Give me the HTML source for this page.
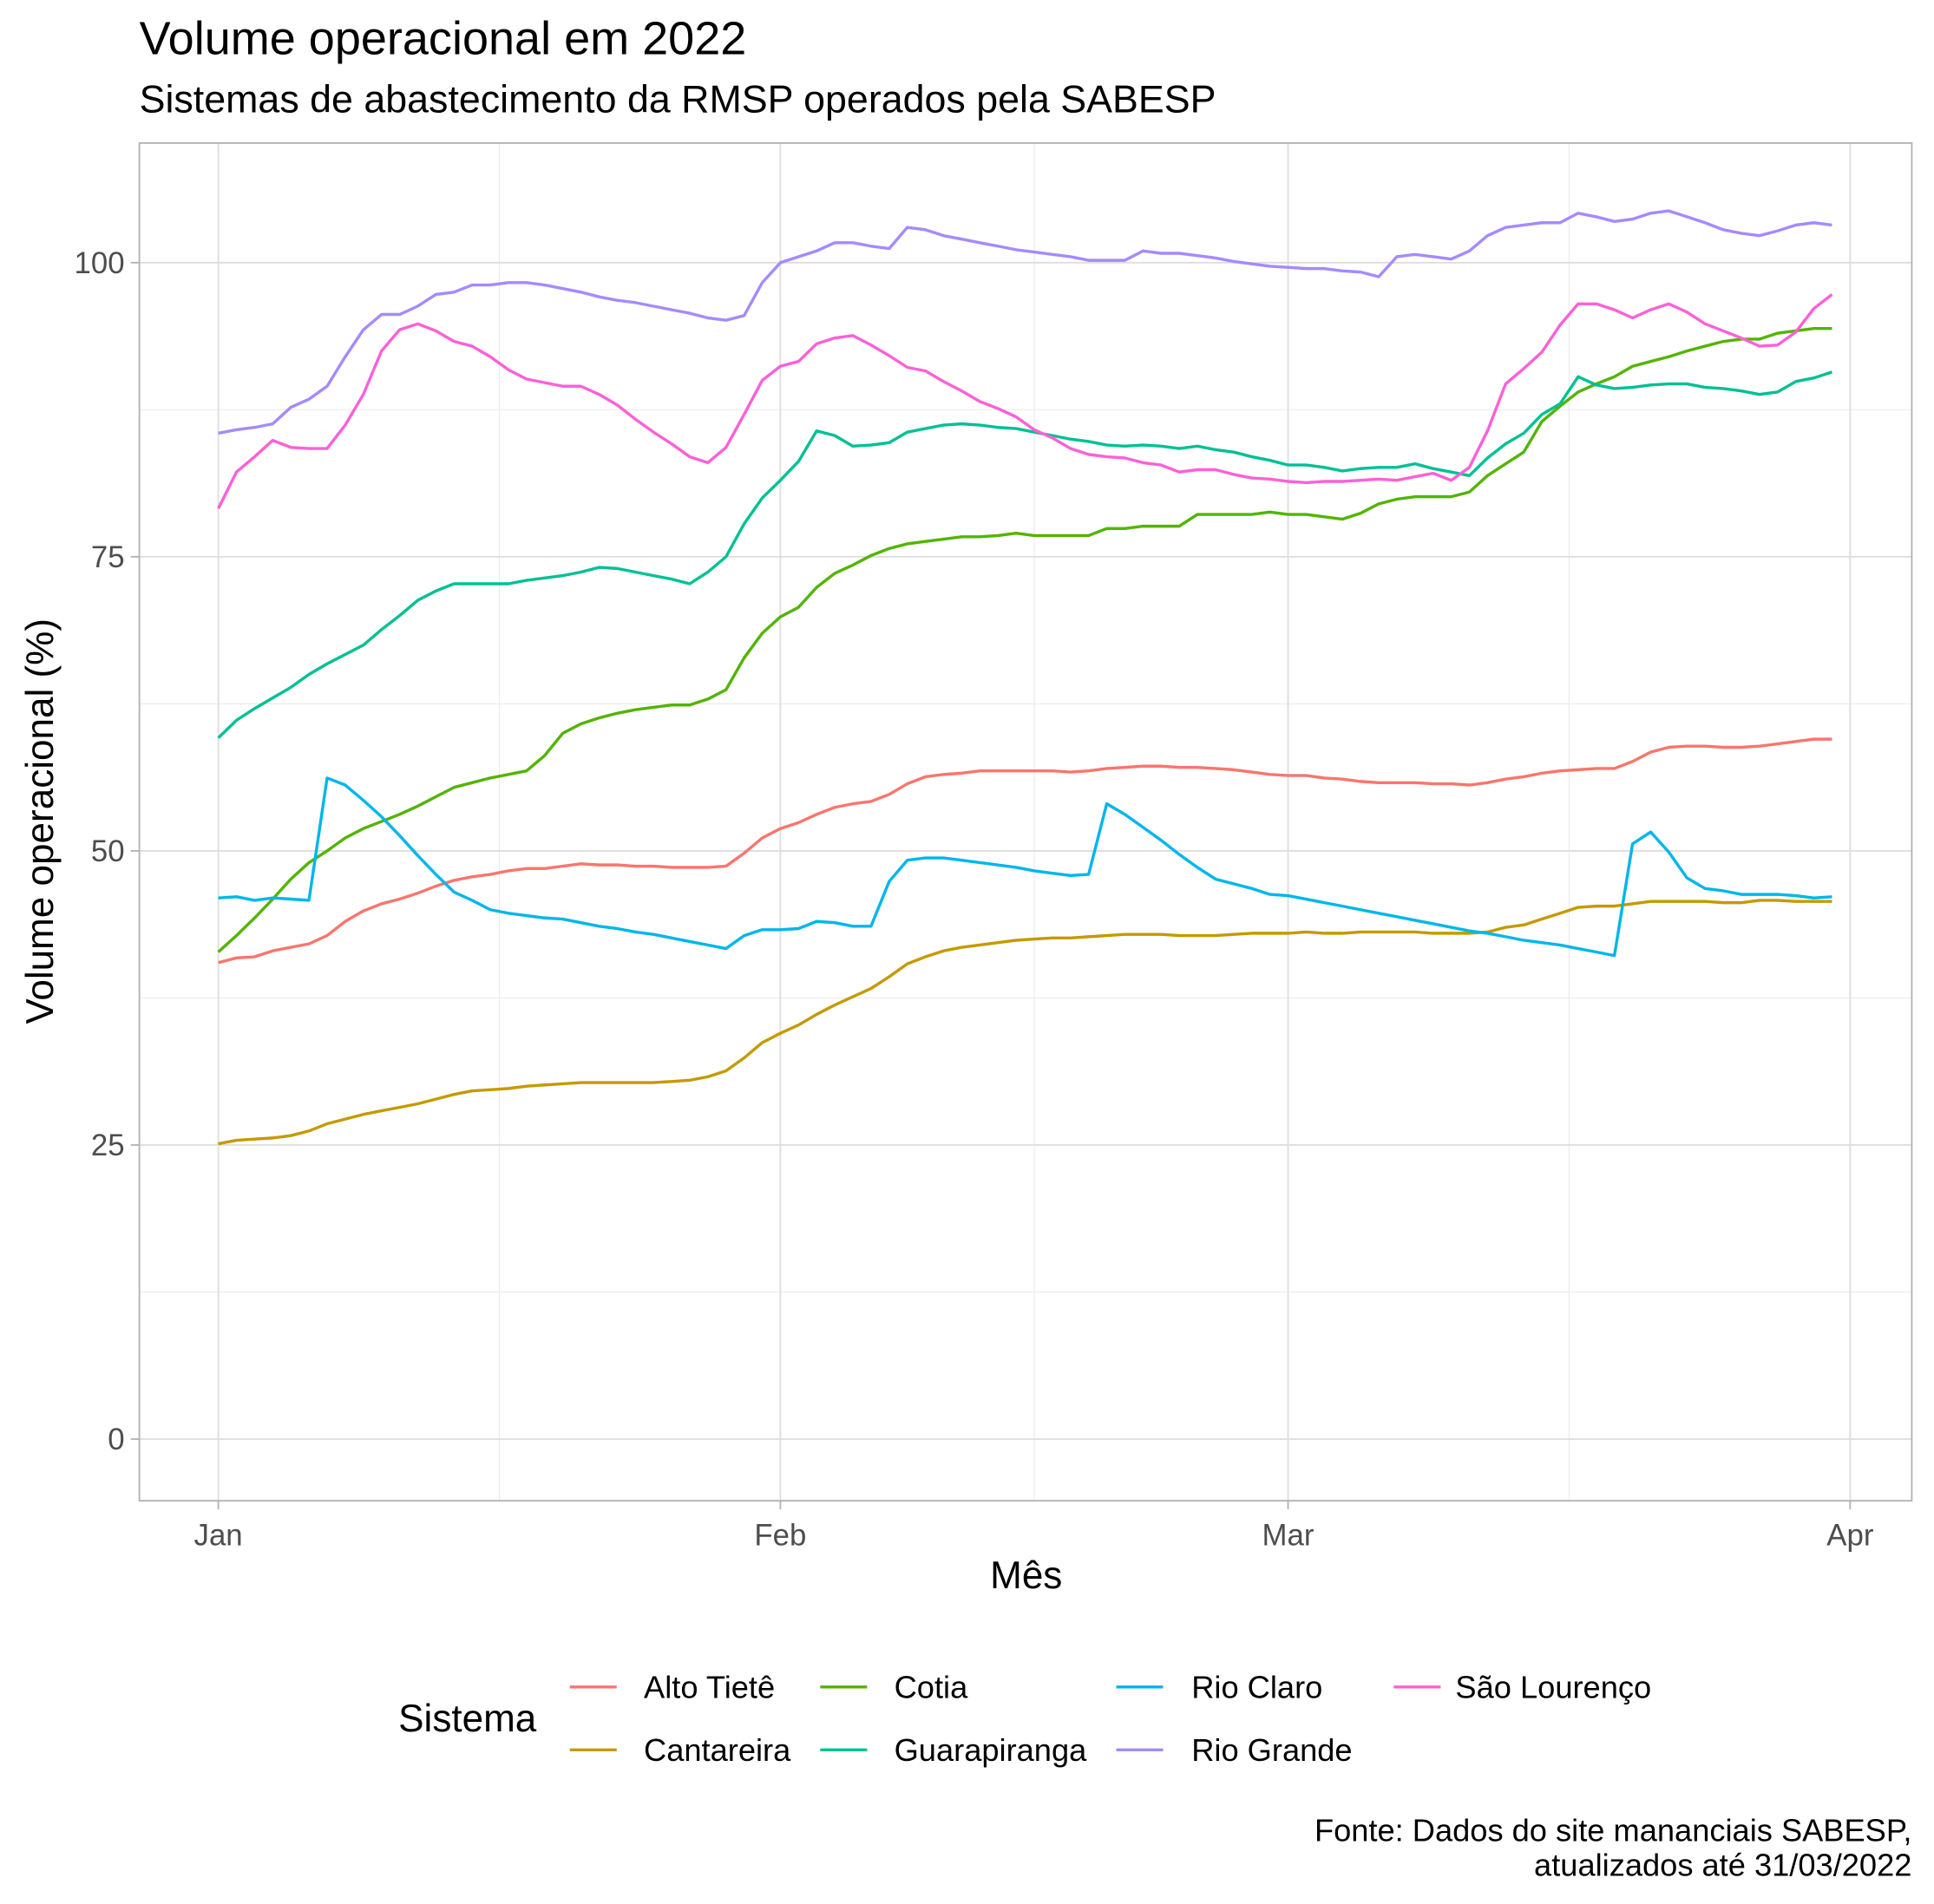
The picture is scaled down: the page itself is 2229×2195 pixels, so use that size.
<!DOCTYPE html>
<html><head><meta charset="utf-8"><style>
html,body{margin:0;padding:0;background:#fff}
svg{display:block;font-family:"Liberation Sans",sans-serif}
</style></head><body>
<svg id="chart" width="2229" height="2195" viewBox="0 0 1568 1544" preserveAspectRatio="none" xmlns="http://www.w3.org/2000/svg">
<rect width="1568" height="1544" fill="#fff"/>
<text x="113" y="44" font-size="38" fill="#000">Volume operacional em 2022</text>
<text x="113" y="91" font-size="31.5" fill="#000">Sistemas de abastecimento da RMSP operados pela SABESP</text>
<g id="grid"></g>
<g id="series"></g>
<rect x="113" y="116" width="1437" height="1101" fill="none" stroke="#b3b3b3" stroke-width="1.3"/>
<g id="axes"></g>
<text x="832" y="1288" font-size="31" text-anchor="middle">Mês</text>
<text transform="translate(43,666) rotate(-90)" font-size="31" text-anchor="middle">Volume operacional (%)</text>
<g id="legend"></g>
<text x="1550" y="1493" font-size="25.5" text-anchor="end">Fonte: Dados do site mananciais SABESP,</text>
<text x="1550" y="1521" font-size="25.5" text-anchor="end">atualizados até 31/03/2022</text>
</svg>
<script>
const seriesNames = ["Alto Tietê","Cantareira","Cotia","Guarapiranga","Rio Claro","Rio Grande","São Lourenço"];
const seriesColors = ["#F8766D","#C49A00","#53B400","#00C094","#00B6EB","#A58AFF","#FB61D7"];
const yTicks = [0,25,50,75,100];
const yMinor = [12.5,37.5,62.5,87.5];
const xTickDays = [0,31,59,90];
const xTickLabels = ["Jan","Feb","Mar","Apr"];
const xMinorDays = [15.5,45,74.5];
const altoTiete = [40.5,40.9,41,41.5,41.8,42.1,42.8,44,44.9,45.5,45.9,46.4,47,47.5,47.8,48,48.3,48.5,48.5,48.7,48.9,48.8,48.8,48.7,48.7,48.6,48.6,48.6,48.7,49.8,51.1,51.9,52.4,53.1,53.7,54,54.2,54.8,55.7,56.3,56.5,56.6,56.8,56.8,56.8,56.8,56.8,56.7,56.8,57,57.1,57.2,57.2,57.1,57.1,57,56.9,56.7,56.5,56.4,56.4,56.2,56.1,55.9,55.8,55.8,55.8,55.7,55.7,55.6,55.8,56.1,56.3,56.6,56.8,56.9,57,57,57.6,58.4,58.8,58.9,58.9,58.8,58.8,58.9,59.1,59.3,59.5,59.5];
const cantareira = [25.1,25.4,25.5,25.6,25.8,26.2,26.8,27.2,27.6,27.9,28.2,28.5,28.9,29.3,29.6,29.7,29.8,30,30.1,30.2,30.3,30.3,30.3,30.3,30.3,30.4,30.5,30.8,31.3,32.4,33.7,34.5,35.2,36.1,36.9,37.6,38.3,39.3,40.4,41,41.5,41.8,42,42.2,42.4,42.5,42.6,42.6,42.7,42.8,42.9,42.9,42.9,42.8,42.8,42.8,42.9,43,43,43,43.1,43,43,43.1,43.1,43.1,43.1,43,43,43,43.1,43.5,43.7,44.2,44.7,45.2,45.3,45.3,45.5,45.7,45.7,45.7,45.7,45.6,45.6,45.8,45.8,45.7,45.7,45.7];
const cotia = [41.4,42.8,44.3,45.9,47.6,49,50,51.1,51.9,52.5,53.1,53.8,54.6,55.4,55.8,56.2,56.5,56.8,58.1,60,60.8,61.3,61.7,62,62.2,62.4,62.4,62.9,63.7,66.4,68.5,69.9,70.7,72.4,73.6,74.3,75.1,75.7,76.1,76.3,76.5,76.7,76.7,76.8,77,76.8,76.8,76.8,76.8,77.4,77.4,77.6,77.6,77.6,78.6,78.6,78.6,78.6,78.8,78.6,78.6,78.4,78.2,78.7,79.5,79.9,80.1,80.1,80.1,80.5,81.9,82.9,83.9,86.5,87.8,89,89.7,90.3,91.2,91.6,92,92.5,92.9,93.3,93.5,93.5,94,94.2,94.4,94.4];
const guarapiranga = [59.6,61.1,62.1,63,63.9,65,65.9,66.7,67.5,68.8,70,71.3,72.1,72.7,72.7,72.7,72.7,73,73.2,73.4,73.7,74.1,74,73.7,73.4,73.1,72.7,73.7,75,77.8,80,81.5,83.1,85.7,85.3,84.4,84.5,84.7,85.6,85.9,86.2,86.3,86.2,86,85.9,85.6,85.3,85,84.8,84.5,84.4,84.5,84.4,84.2,84.4,84.1,83.9,83.5,83.2,82.8,82.8,82.6,82.3,82.5,82.6,82.6,82.9,82.5,82.2,81.9,83.4,84.6,85.5,87.1,88,90.3,89.6,89.3,89.4,89.6,89.7,89.7,89.4,89.3,89.1,88.8,89,89.9,90.2,90.7];
const rioClaro = [46,46.1,45.8,46,45.9,45.8,56.2,55.6,54.3,52.9,51.3,49.6,48,46.5,45.8,45,44.7,44.5,44.3,44.2,43.9,43.6,43.4,43.1,42.9,42.6,42.3,42,41.7,42.8,43.3,43.3,43.4,44,43.9,43.6,43.6,47.4,49.2,49.4,49.4,49.2,49,48.8,48.6,48.3,48.1,47.9,48,54,53.1,52,50.9,49.7,48.6,47.6,47.2,46.8,46.3,46.2,45.9,45.6,45.3,45,44.7,44.4,44.1,43.8,43.5,43.2,43,42.7,42.4,42.2,42,41.7,41.4,41.1,50.6,51.6,49.9,47.7,46.8,46.6,46.3,46.3,46.3,46.2,46,46.1];
const rioGrande = [85.5,85.8,86,86.3,87.7,88.4,89.5,92,94.3,95.6,95.6,96.3,97.3,97.5,98.1,98.1,98.3,98.3,98.1,97.8,97.5,97.1,96.8,96.6,96.3,96,95.7,95.3,95.1,95.5,98.3,100,100.5,101,101.7,101.7,101.4,101.2,103,102.8,102.3,102,101.7,101.4,101.1,100.9,100.7,100.5,100.2,100.2,100.2,101,100.8,100.8,100.6,100.4,100.1,99.9,99.7,99.6,99.5,99.5,99.3,99.2,98.8,100.5,100.7,100.5,100.3,101,102.3,103,103.2,103.4,103.4,104.2,103.9,103.5,103.7,104.2,104.4,103.9,103.4,102.8,102.5,102.3,102.7,103.2,103.4,103.2];
const saoLourenco = [79.1,82.2,83.5,84.9,84.3,84.2,84.2,86.2,88.8,92.5,94.3,94.8,94.2,93.3,92.9,92,90.9,90.1,89.8,89.5,89.5,88.8,87.9,86.7,85.6,84.6,83.5,83,84.3,87.1,90,91.2,91.6,93.1,93.6,93.8,93,92.1,91.1,90.8,89.9,89.1,88.2,87.6,86.9,85.8,85.1,84.2,83.7,83.5,83.4,83,82.8,82.2,82.4,82.4,82,81.7,81.6,81.4,81.3,81.4,81.4,81.5,81.6,81.5,81.8,82.1,81.5,82.6,85.7,89.7,91,92.4,94.7,96.5,96.5,96,95.3,96,96.5,95.8,94.8,94.2,93.6,92.9,93,94.1,96.1,97.3];
const allSeries = [altoTiete,cantareira,cotia,guarapiranga,rioClaro,rioGrande,saoLourenco];

const NS="http://www.w3.org/2000/svg";
const X0=177, PXDAY=14.7, Y0=1167, PXUNIT=9.54;
const xs = d => X0 + d*PXDAY;
const ys = v => Y0 - v*PXUNIT;
function mk(tag, attrs, parent){const e=document.createElementNS(NS,tag);for(const k in attrs)e.setAttribute(k,attrs[k]);parent.appendChild(e);return e;}
const grid=document.getElementById('grid'), axes=document.getElementById('axes'), ser=document.getElementById('series'), leg=document.getElementById('legend');
for(const v of yMinor){const l=mk('line',{x1:113,x2:1550,y1:ys(v),y2:ys(v),stroke:'#ebebeb','stroke-width':0.8},grid);

}
for(const d of xMinorDays){const l=mk('line',{x1:xs(d),x2:xs(d),y1:116,y2:1217,stroke:'#ebebeb','stroke-width':0.8},grid);

}
yTicks.forEach(v=>{const l=mk('line',{x1:113,x2:1550,y1:ys(v),y2:ys(v),stroke:'#dedede','stroke-width':1.3},grid);


const t=mk('line',{x1:106,x2:113,y1:ys(v),y2:ys(v),stroke:'#b3b3b3','stroke-width':1.3},axes);


const tx=mk('text',{x:101,y:ys(v)+8.5,'font-size':24.5,'text-anchor':'end',fill:'#4d4d4d'},axes);tx.textContent=v;

});
xTickDays.forEach((d,i)=>{const l=mk('line',{x1:xs(d),x2:xs(d),y1:116,y2:1217,stroke:'#dedede','stroke-width':1.3},grid);


const t=mk('line',{x1:xs(d),x2:xs(d),y1:1217,y2:1224,stroke:'#b3b3b3','stroke-width':1.3},axes);


const tx=mk('text',{x:xs(d),y:1253,'font-size':24.5,'text-anchor':'middle',fill:'#4d4d4d'},axes);tx.textContent=xTickLabels[i];

});
allSeries.forEach((arr,si)=>{const pts=arr.map((v,i)=>xs(i).toFixed(1)+','+ys(v).toFixed(1)).join(' ');
const p=mk('polyline',{points:pts,fill:'none',stroke:seriesColors[si],'stroke-width':2.4,'stroke-linejoin':'round'},ser);

});
const lt=mk('text',{x:323,y:1404,'font-size':31},leg);lt.textContent='Sistema';


const colKey=[462,665,905,1130], colLab=[522,725,966,1180], rowY=[1368,1419];
seriesNames.forEach((n,i)=>{const c=Math.floor(i/2), r=i%2;
const l=mk('line',{x1:colKey[c],x2:colKey[c]+38,y1:rowY[r],y2:rowY[r],stroke:seriesColors[i],'stroke-width':2.4},leg);


const t=mk('text',{x:colLab[c],y:rowY[r]+9,'font-size':25.5},leg);t.textContent=n;

});
</script>
</body></html>
